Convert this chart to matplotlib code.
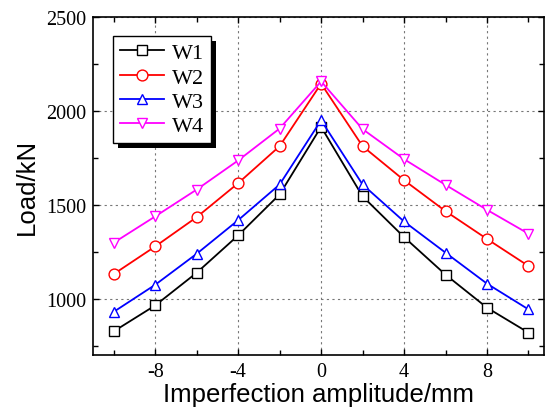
import matplotlib
matplotlib.use("Agg")
import matplotlib.pyplot as plt
from matplotlib.patches import Rectangle
from matplotlib.ticker import MultipleLocator

plt.rcParams['axes.unicode_minus'] = False

x = [-10, -8, -6, -4, -2, 0, 2, 4, 6, 8, 10]
W1 = [826, 964, 1138, 1337, 1555, 1915, 1545, 1328, 1128, 952, 819]
W2 = [1131, 1278, 1434, 1615, 1812, 2145, 1812, 1631, 1466, 1318, 1174]
W3 = [930, 1074, 1239, 1418, 1608, 1950, 1608, 1411, 1245, 1080, 943]
W4 = [1298, 1438, 1581, 1736, 1906, 2157, 1903, 1743, 1606, 1473, 1346]
labels = ["W1", "W2", "W3", "W4"]
colors = ["black", "#ff0000", "#0000ff", "#ff00ff"]
markers = ["s", "o", "^", "v"]
xticks = [-8, -4, 0, 4, 8]
yticks = [1000, 1500, 2000, 2500]

W, H = 545, 414
fig = plt.figure(figsize=(W / 100, H / 100), dpi=100)
ax = fig.add_axes([93 / W, 1 - 356 / H, (544 - 93) / W, (356 - 18) / H])

series = [W1, W2, W3, W4]
for ys, lab, c, m in zip(series, labels, colors, markers):
    ms = 6.8 if m == "s" else 7.8
    ax.plot(x, ys, color=c, lw=1.3, marker=m, ms=ms, mfc="white",
            mec=c, mew=1.0, label=lab, zorder=3)

ax.set_xlim(-11, 10.75)
ax.set_ylim(700, 2500)
ax.set_xticks(xticks)
ax.set_yticks(yticks)
ax.xaxis.set_minor_locator(MultipleLocator(2))
ax.yaxis.set_minor_locator(MultipleLocator(250))
ax.tick_params(which="both", direction="in", top=True, right=True, width=1.0)
ax.tick_params(which="major", length=4.5)
ax.tick_params(which="minor", length=3.5)
for lab in ax.get_xticklabels() + ax.get_yticklabels():
    lab.set_fontfamily("Liberation Serif")
    lab.set_fontsize(14.5)
ax.tick_params(axis="x", pad=5)
ax.tick_params(axis="y", pad=5)
for s in ax.spines.values():
    s.set_linewidth(1.2)
ax.grid(True, which="major", linestyle=(0, (2, 3)), color="#777777", lw=0.8)

ax.set_xlabel("Imperfection amplitude/mm", fontfamily="Liberation Sans",
              fontsize=18.5, labelpad=1)
ax.set_ylabel("Load/kN", fontfamily="Liberation Sans", fontsize=18.5, labelpad=5)

leg = ax.legend(loc="upper left", bbox_to_anchor=(20 / (544 - 93), 1 - 19 / (356 - 18)),
                borderaxespad=0, frameon=True, fancybox=False, edgecolor="black",
                framealpha=1, prop={"family": "Liberation Serif", "size": 16},
                handlelength=2.0, handletextpad=0.35, labelspacing=0.17,
                borderpad=0.3)
leg.get_frame().set_linewidth(1.0)
leg.set_zorder(6)

fig.canvas.draw()
bb = leg.get_window_extent()
shadow = Rectangle((bb.x0 + 5, bb.y0 - 5), bb.width, bb.height, transform=None,
                   facecolor="black", edgecolor="none", zorder=5.5, clip_on=False)
ax.add_artist(shadow)

fig.savefig("out.png", dpi=100)
